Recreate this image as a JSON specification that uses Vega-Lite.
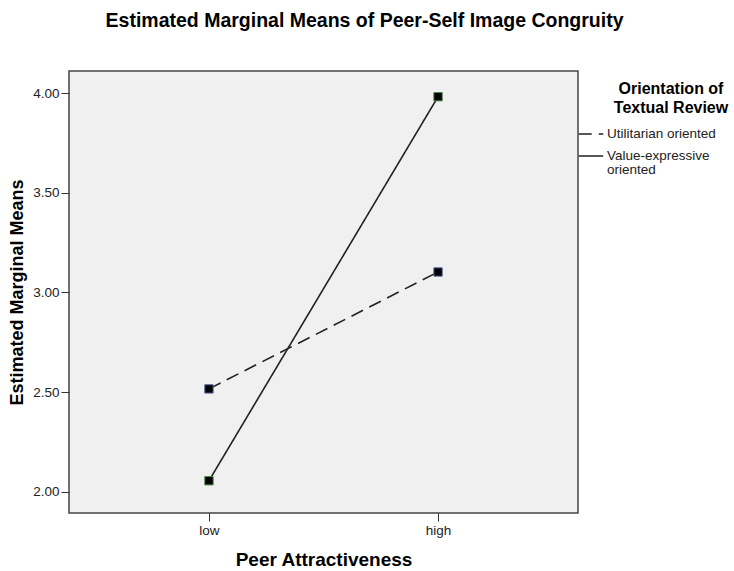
{
  "$schema": "https://vega.github.io/schema/vega-lite/v6.json",
  "width": 509,
  "height": 442,
  "autosize": "none",
  "padding": {"left": 69, "top": 71, "right": 156, "bottom": 58},
  "background": "white",
  "config": {
    "font": "Liberation Sans",
    "view": {"fill": "#f0f0f0", "stroke": "#444444", "strokeWidth": 1.5}
  },
  "title": {
    "text": "Estimated Marginal Means of Peer-Self Image Congruity",
    "fontSize": 19.5,
    "fontWeight": "bold",
    "color": "black",
    "anchor": "middle",
    "dx": 41,
    "offset": 40
  },
  "data": {
    "values": [
      {"attr": "low", "orient": "Utilitarian oriented", "mean": 2.516},
      {"attr": "high", "orient": "Utilitarian oriented", "mean": 3.103},
      {"attr": "low", "orient": "Value-expressive oriented", "mean": 2.055},
      {"attr": "high", "orient": "Value-expressive oriented", "mean": 3.983}
    ]
  },
  "encoding": {
    "x": {
      "field": "attr",
      "type": "ordinal",
      "sort": ["low", "high"],
      "scale": {"type": "point", "padding": 0.611},
      "axis": {
        "title": "Peer Attractiveness",
        "titleFontSize": 19,
        "titleFontWeight": "bold",
        "titleColor": "black",
        "titlePadding": 14,
        "labelFontSize": 13.5,
        "labelColor": "#222222",
        "labelAngle": 0,
        "labelPadding": 2,
        "tickColor": "#333333",
        "tickSize": 8,
        "domain": false,
        "grid": false
      }
    },
    "y": {
      "field": "mean",
      "type": "quantitative",
      "scale": {"domain": [1.893, 4.112], "nice": false, "zero": false},
      "axis": {
        "title": "Estimated Marginal Means",
        "values": [2, 2.5, 3, 3.5, 4],
        "format": ".2f",
        "titleFontSize": 18,
        "titleFontWeight": "bold",
        "titleColor": "black",
        "titlePadding": 6,
        "labelFontSize": 13.5,
        "labelColor": "#222222",
        "labelPadding": 2,
        "tickColor": "#333333",
        "tickSize": 8,
        "domain": false,
        "grid": false
      }
    }
  },
  "layer": [
    {
      "mark": {"type": "line", "color": "#222222", "strokeWidth": 1.6},
      "encoding": {
        "strokeDash": {
          "field": "orient",
          "type": "nominal",
          "scale": {
            "domain": ["Utilitarian oriented", "Value-expressive oriented"],
            "range": [[13, 7], [1, 0]]
          },
          "legend": {
            "title": ["Orientation of", "Textual Review"],
            "orient": "none",
            "legendX": 509,
            "legendY": 10,
            "titleFontSize": 16,
            "titleFontWeight": "bold",
            "titleColor": "black",
            "titleAlign": "center",
            "titleAnchor": "middle",
            "titleLineHeight": 19,
            "titlePadding": 5,
            "labelFontSize": 13.5,
            "labelColor": "#222222",
            "labelOffset": 3,
            "labelExpr": "datum.label == 'Value-expressive oriented' ? ['Value-expressive', 'oriented'] : datum.label",
            "symbolType": "stroke",
            "symbolSize": 600,
            "symbolStrokeWidth": 1.4,
            "symbolStrokeColor": "#222222",
            "rowPadding": 2,
            "padding": 0,
            "encode": {
              "labels": {"update": {"lineHeight": {"value": 14}}},
              "title": {"update": {"dx": {"value": 24}}}
            }
          }
        }
      }
    },
    {
      "transform": [{"filter": "datum.orient == 'Utilitarian oriented'"}],
      "mark": {"type": "point", "shape": "square", "filled": true, "size": 70, "fill": "black", "stroke": "#5a6aa0", "strokeWidth": 1, "opacity": 1}
    },
    {
      "transform": [{"filter": "datum.orient == 'Value-expressive oriented'"}],
      "mark": {"type": "point", "shape": "square", "filled": true, "size": 70, "fill": "black", "stroke": "#4a8a4a", "strokeWidth": 1, "opacity": 1}
    }
  ]
}
